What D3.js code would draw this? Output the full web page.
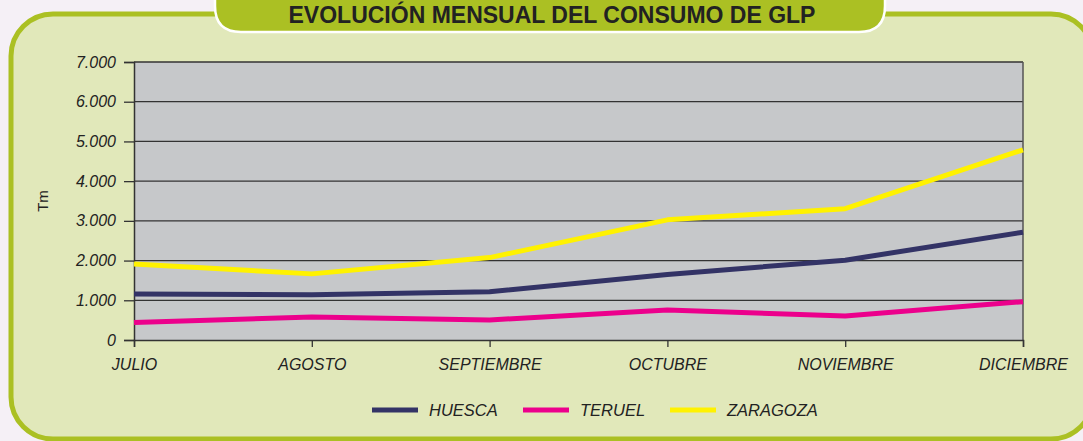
<!DOCTYPE html>
<html>
<head>
<meta charset="utf-8">
<script src="https://cdn.jsdelivr.net/npm/d3@7"></script>
<style>
  html, body { margin: 0; padding: 0; background: #f5f0f6; }
  svg { display: block; }
</style>
</head>
<body>
<svg id="chart" width="1083" height="441"></svg>
<script>
// Monthly LPG consumption (Tm) by province
const months = ["JULIO", "AGOSTO", "SEPTIEMBRE", "OCTUBRE", "NOVIEMBRE", "DICIEMBRE"];
const huesca = [1160, 1140, 1215, 1650, 2010, 2715];
const teruel = [440, 580, 505, 755, 605, 965];
const zaragoza = [1915, 1665, 2075, 3025, 3305, 4790];
const yTicks = [0, 1000, 2000, 3000, 4000, 5000, 6000, 7000];
const seriesNames = ["HUESCA", "TERUEL", "ZARAGOZA"];
const seriesColors = ["#333366", "#ec008c", "#fff200"];

const series = [huesca, teruel, zaragoza].map((values, i) => ({
  name: seriesNames[i], color: seriesColors[i], values
}));

const svg = d3.select("#chart");
const font = "'Liberation Sans', Arial, sans-serif";

// Rounded light-green panel
svg.append("rect")
  .attr("x", 11).attr("y", 14).attr("width", 1082).attr("height", 425)
  .attr("rx", 42).attr("ry", 42)
  .attr("fill", "#e1e8ba").attr("stroke", "#abc023").attr("stroke-width", 5);

// Title tab
svg.append("path")
  .attr("d", "M215,-10 L215,6 Q215,32 241,32 L859,32 Q885,32 885,6 L885,-10 Z")
  .attr("fill", "#abc023").attr("stroke", "#ffffff").attr("stroke-width", 2.5);
svg.append("text")
  .attr("x", 552).attr("y", 23)
  .attr("text-anchor", "middle")
  .attr("font-family", font).attr("font-weight", "bold").attr("font-size", 23)
  .attr("fill", "#222222")
  .text("EVOLUCIÓN MENSUAL DEL CONSUMO DE GLP");

const margin = { left: 134, right: 1023, top: 62, bottom: 340 };

const x = d3.scalePoint().domain(months).range([margin.left, margin.right]).padding(0);
const y = d3.scaleLinear().domain([0, 7000]).range([margin.bottom, margin.top]);

// Plot background
svg.append("rect")
  .attr("x", margin.left).attr("y", margin.top)
  .attr("width", margin.right - margin.left).attr("height", margin.bottom - margin.top)
  .attr("fill", "#c6c8ca");

// Horizontal gridlines
svg.append("g").selectAll("line").data(yTicks.filter(d => d > 0)).join("line")
  .attr("x1", margin.left).attr("x2", margin.right)
  .attr("y1", d => y(d)).attr("y2", d => y(d))
  .attr("stroke", "#333333").attr("stroke-width", 1.3);

// Right border of plot
svg.append("line")
  .attr("x1", margin.right).attr("x2", margin.right)
  .attr("y1", margin.top).attr("y2", margin.bottom)
  .attr("stroke", "#555555").attr("stroke-width", 1.5);

// Y axis
const yAxis = svg.append("g")
  .attr("transform", `translate(${margin.left},0)`)
  .call(d3.axisLeft(y).tickValues(yTicks).tickSize(10).tickPadding(8)
    .tickFormat(d => d === 0 ? "0" : d3.format(",")(d).replace(/,/g, ".")));
yAxis.select(".domain").attr("stroke", "#333333").attr("stroke-width", 1.5);
yAxis.selectAll(".tick line").attr("stroke", "#333333").attr("stroke-width", 1.3);
yAxis.selectAll(".tick text")
  .attr("font-family", font).attr("font-style", "italic").attr("font-size", 16)
  .attr("fill", "#222222");

// X axis
const xAxis = svg.append("g")
  .attr("transform", `translate(0,${margin.bottom})`)
  .call(d3.axisBottom(x).tickSize(7).tickPadding(12));
xAxis.select(".domain").attr("stroke", "#333333").attr("stroke-width", 1.5);
xAxis.selectAll(".tick line").attr("stroke", "#333333").attr("stroke-width", 1.3);
xAxis.selectAll(".tick text")
  .attr("font-family", font).attr("font-style", "italic").attr("font-size", 16)
  .attr("fill", "#222222");

// Y axis title
svg.append("text")
  .attr("transform", "translate(48,201) rotate(-90)")
  .attr("text-anchor", "middle")
  .attr("font-family", font).attr("font-size", 15).attr("fill", "#222222")
  .text("Tm");

// Series lines
const line = d3.line().x((d, i) => x(months[i])).y(d => y(d));
svg.append("g").selectAll("path").data(series).join("path")
  .attr("d", d => line(d.values))
  .attr("fill", "none")
  .attr("stroke", d => d.color)
  .attr("stroke-width", 5)
  .attr("stroke-linejoin", "round");

// Legend
const legendX = [372, 523, 670];
const legend = svg.append("g").selectAll("g").data(series).join("g")
  .attr("transform", (d, i) => `translate(${legendX[i]},410)`);
legend.append("line")
  .attr("x1", 0).attr("x2", 46).attr("y1", 0).attr("y2", 0)
  .attr("stroke", d => d.color).attr("stroke-width", 5);
legend.append("text")
  .attr("x", 57).attr("y", 6)
  .attr("font-family", font).attr("font-style", "italic").attr("font-size", 16.5)
  .attr("fill", "#222222")
  .text(d => d.name);
</script>
</body>
</html>
